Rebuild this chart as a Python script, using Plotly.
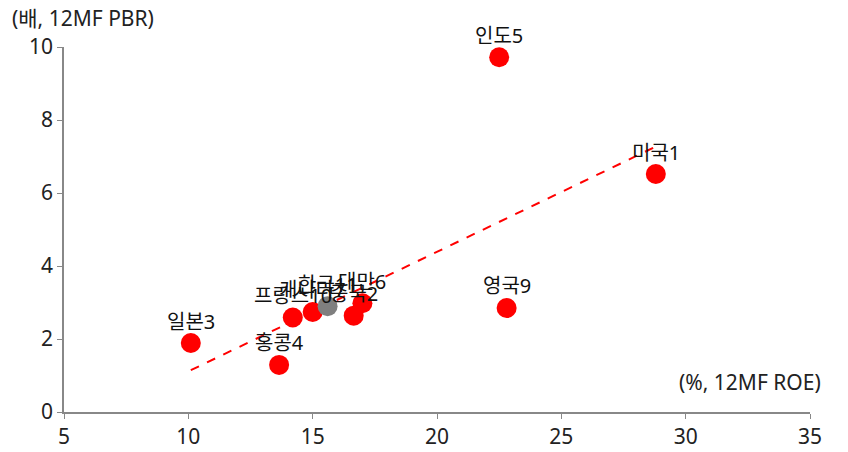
import numpy as np
import plotly.graph_objects as go

countries = ["미국1", "중국2", "일본3", "홍콩4", "인도5", "대만6", "캐나다7", "영국9", "프랑스10"]
roe = [28.8, 16.65, 10.1, 13.65, 22.5, 17.0, 15.0, 22.8, 14.2]
pbr = [6.52, 2.64, 1.89, 1.29, 9.72, 2.98, 2.74, 2.85, 2.59]

korea_label = ["한국11"]
korea_roe = [15.6]
korea_pbr = [2.9]

all_x = np.array(roe + korea_roe)
all_y = np.array(pbr + korea_pbr)
slope, intercept = np.polyfit(all_x, all_y, 1)
tx = np.array([all_x.min(), all_x.max()])
ty = slope * tx + intercept

FONT = "Noto Sans, Noto Sans CJK KR"
FS_LAB = 20
FS = 21
fig = go.Figure()
fig.add_trace(go.Scatter(x=tx, y=ty, mode="lines",
                         line=dict(color="#ff0000", width=2, dash="dash"),
                         hoverinfo="skip", showlegend=False, cliponaxis=False))
fig.add_trace(go.Scatter(x=roe, y=pbr, mode="markers", text=countries,
                         cliponaxis=False,
                         marker=dict(color="#ff0000", size=20),
                         showlegend=False))
fig.add_trace(go.Scatter(x=korea_roe, y=korea_pbr, mode="markers", text=korea_label,
                         cliponaxis=False,
                         marker=dict(color="#7f7f7f", size=20),
                         showlegend=False))

annots = []
for lab, xv, yv in zip(countries + korea_label, roe + korea_roe, pbr + korea_pbr):
    annots.append(dict(text=lab, x=xv, y=yv, xref="x", yref="y", yshift=22,
                       xanchor="center", yanchor="middle", showarrow=False,
                       font=dict(family=FONT, size=FS_LAB, color="#111111")))
annots += [
    dict(text="(배, 12MF PBR)", xref="paper", yref="paper", x=-54/746, y=1 + 29/365,
         xanchor="left", yanchor="middle", showarrow=False,
         font=dict(family=FONT, size=FS, color="#222222")),
    dict(text="(%, 12MF ROE)", xref="paper", yref="paper", x=1 + 13/746, y=(412 - 382) / 365,
         xanchor="right", yanchor="middle", showarrow=False,
         font=dict(family=FONT, size=FS, color="#222222")),
]

fig.update_layout(
    width=840, height=444,
    margin=dict(l=56, r=38, t=39, b=40),
    plot_bgcolor="white", paper_bgcolor="white",
    font=dict(family=FONT, size=FS, color="#222222"),
    xaxis=dict(range=[5, 35], dtick=5, showgrid=False, zeroline=False,
               showline=True, linecolor="#888888", linewidth=1.5,
               ticks="outside", ticklen=5, tickcolor="#888888", automargin=False,
               tickfont=dict(family=FONT, size=FS, color="#222222")),
    yaxis=dict(range=[0, 10], dtick=2, showgrid=False, zeroline=False,
               showline=True, linecolor="#888888", linewidth=1.5,
               ticks="outside", ticklen=5, tickcolor="#888888", automargin=False,
               tickfont=dict(family=FONT, size=FS, color="#222222")),
    annotations=annots,
)
fig.write_html("out.html")
